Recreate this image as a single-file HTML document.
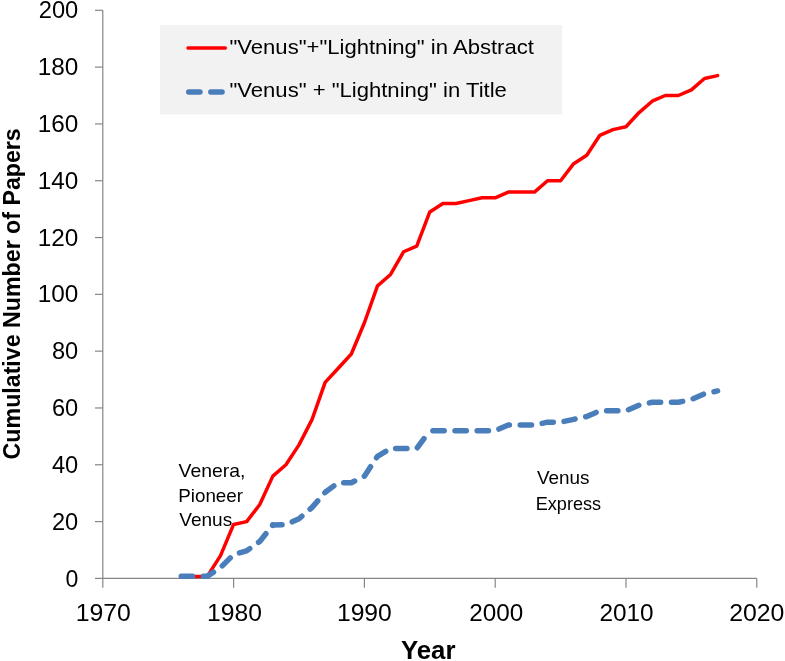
<!DOCTYPE html>
<html><head><meta charset="utf-8"><style>
html,body{margin:0;padding:0;background:#fff;}
svg{display:block;will-change:transform;}
text{font-family:"Liberation Sans",sans-serif;fill:#000;}
.t{font-size:23px;}
.lg{font-size:19.8px;}
.an{font-size:17.8px;}
.ti{font-size:25.8px;font-weight:bold;}
.ti2{font-size:23.2px;font-weight:bold;}
</style></head><body>
<svg width="785" height="661" viewBox="0 0 785 661">
<rect width="785" height="661" fill="#fff"/>
<path d="M102.80 10.30V578.40H756.80" fill="none" stroke="#868686" stroke-width="1.2"/>
<path d="M95 578.40H102.80" stroke="#868686" stroke-width="1.2"/>
<text x="65.52" y="586.50" class="t" textLength="12.83" lengthAdjust="spacingAndGlyphs">0</text>
<path d="M95 521.59H102.80" stroke="#868686" stroke-width="1.2"/>
<text x="51.98" y="529.69" class="t" textLength="26.27" lengthAdjust="spacingAndGlyphs">20</text>
<path d="M95 464.78H102.80" stroke="#868686" stroke-width="1.2"/>
<text x="51.98" y="472.88" class="t" textLength="26.31" lengthAdjust="spacingAndGlyphs">40</text>
<path d="M95 407.97H102.80" stroke="#868686" stroke-width="1.2"/>
<text x="51.98" y="416.07" class="t" textLength="26.27" lengthAdjust="spacingAndGlyphs">60</text>
<path d="M95 351.16H102.80" stroke="#868686" stroke-width="1.2"/>
<text x="51.97" y="359.26" class="t" textLength="26.27" lengthAdjust="spacingAndGlyphs">80</text>
<path d="M95 294.35H102.80" stroke="#868686" stroke-width="1.2"/>
<text x="37.67" y="302.45" class="t" textLength="40.60" lengthAdjust="spacingAndGlyphs">100</text>
<path d="M95 237.54H102.80" stroke="#868686" stroke-width="1.2"/>
<text x="37.67" y="245.64" class="t" textLength="40.60" lengthAdjust="spacingAndGlyphs">120</text>
<path d="M95 180.73H102.80" stroke="#868686" stroke-width="1.2"/>
<text x="37.67" y="188.83" class="t" textLength="40.60" lengthAdjust="spacingAndGlyphs">140</text>
<path d="M95 123.92H102.80" stroke="#868686" stroke-width="1.2"/>
<text x="37.67" y="132.02" class="t" textLength="40.60" lengthAdjust="spacingAndGlyphs">160</text>
<path d="M95 67.11H102.80" stroke="#868686" stroke-width="1.2"/>
<text x="37.67" y="75.21" class="t" textLength="40.60" lengthAdjust="spacingAndGlyphs">180</text>
<path d="M95 10.30H102.80" stroke="#868686" stroke-width="1.2"/>
<text x="38.73" y="18.40" class="t" textLength="39.53" lengthAdjust="spacingAndGlyphs">200</text>
<path d="M102.80 578.40V587.7" stroke="#868686" stroke-width="1.2"/>
<text x="75.75" y="621.00" class="t" textLength="55.11" lengthAdjust="spacingAndGlyphs">1970</text>
<path d="M233.60 578.40V587.7" stroke="#868686" stroke-width="1.2"/>
<text x="207.08" y="621.00" class="t" textLength="54.89" lengthAdjust="spacingAndGlyphs">1980</text>
<path d="M364.40 578.40V587.7" stroke="#868686" stroke-width="1.2"/>
<text x="336.94" y="621.00" class="t" textLength="54.87" lengthAdjust="spacingAndGlyphs">1990</text>
<path d="M495.20 578.40V587.7" stroke="#868686" stroke-width="1.2"/>
<text x="469.19" y="621.00" class="t" textLength="54.01" lengthAdjust="spacingAndGlyphs">2000</text>
<path d="M626.00 578.40V587.7" stroke="#868686" stroke-width="1.2"/>
<text x="599.42" y="621.00" class="t" textLength="54.20" lengthAdjust="spacingAndGlyphs">2010</text>
<path d="M756.80 578.40V587.7" stroke="#868686" stroke-width="1.2"/>
<text x="729.16" y="621.00" class="t" textLength="55.26" lengthAdjust="spacingAndGlyphs">2020</text>
<rect x="160" y="25" width="402" height="89.4" fill="#f2f2f2"/>
<path d="M188 47.9H225.3" stroke="#ff0000" stroke-width="3.5" stroke-linecap="round"/>
<path d="M188.7 92H225.5" stroke="#4a7ebb" stroke-width="5.4" stroke-linecap="round" stroke-dasharray="11.3 10.82"/>
<text x="229.48" y="53.70" class="lg" textLength="304.42" lengthAdjust="spacingAndGlyphs">"Venus"+"Lightning" in Abstract</text>
<text x="229.48" y="97.30" class="lg" textLength="277.40" lengthAdjust="spacingAndGlyphs">"Venus" + "Lightning" in Title</text>
<polyline points="181.28,576.41 194.36,576.41 207.44,576.13 220.52,555.68 233.60,524.43 246.68,521.59 259.76,504.55 272.84,476.14 285.92,464.78 299.00,444.90 312.08,419.33 325.16,382.41 338.24,368.20 351.32,354.00 364.40,322.75 377.48,285.83 390.56,274.47 403.64,251.74 416.72,246.06 429.80,211.98 442.88,203.45 455.96,203.45 469.04,200.61 482.12,197.77 495.20,197.77 508.28,192.09 521.36,192.09 534.44,192.09 547.52,180.73 560.60,180.73 573.68,163.69 586.76,155.17 599.84,135.28 612.92,129.60 626.00,126.76 639.08,112.56 652.16,101.20 665.24,95.51 678.32,95.51 691.40,89.83 704.48,78.47 717.56,75.63" fill="none" stroke="#ff0000" stroke-width="3.5" stroke-linejoin="round" stroke-linecap="round"/>
<g fill="none" stroke="#4a7ebb" stroke-width="5.5" stroke-linejoin="round" stroke-linecap="round" stroke-dasharray="11.3 10.82"><polyline points="181.28,576.27 194.36,576.27 207.44,576.13 220.52,567.61 233.60,554.54 246.68,550.85 259.76,541.47 272.84,525.00" stroke-dashoffset="0.00"/><polyline points="272.84,525.00 285.92,524.71 299.00,518.75 312.08,507.39 325.16,492.33 338.24,482.68" stroke-dashoffset="2.10"/><polyline points="338.24,482.68 351.32,482.68 364.40,476.14 377.48,456.26 390.56,448.59" stroke-dashoffset="16.62"/><polyline points="390.56,448.59 403.64,448.59 416.72,448.59 429.80,430.69" stroke-dashoffset="17.02"/><polyline points="429.80,430.69 442.88,430.69 455.96,430.69 469.04,430.69 482.12,430.69 495.20,430.69 508.28,425.01 521.36,425.01 534.44,425.01 547.52,422.17 560.60,422.17 573.68,419.33 586.76,416.49 599.84,410.81 612.92,410.81 626.00,410.81 639.08,405.13 652.16,402.29 665.24,402.29 678.32,402.29 691.40,399.45 704.48,393.77 717.56,390.93" stroke-dashoffset="19.02"/></g>
<text x="178.64" y="476.80" class="an" textLength="66.86" lengthAdjust="spacingAndGlyphs">Venera,</text>
<text x="178.22" y="501.60" class="an" textLength="64.82" lengthAdjust="spacingAndGlyphs">Pioneer</text>
<text x="179.24" y="526.20" class="an" textLength="52.98" lengthAdjust="spacingAndGlyphs">Venus</text>
<text x="536.90" y="484.40" class="an" textLength="52.59" lengthAdjust="spacingAndGlyphs">Venus</text>
<text x="535.74" y="509.80" class="an" textLength="65.35" lengthAdjust="spacingAndGlyphs">Express</text>
<text x="400.92" y="658.90" class="ti" textLength="54.55" lengthAdjust="spacingAndGlyphs">Year</text>
<text transform="translate(19.8 293.80) rotate(-90)" text-anchor="middle" class="ti2">Cumulative Number of Papers</text>
</svg>
</body></html>
